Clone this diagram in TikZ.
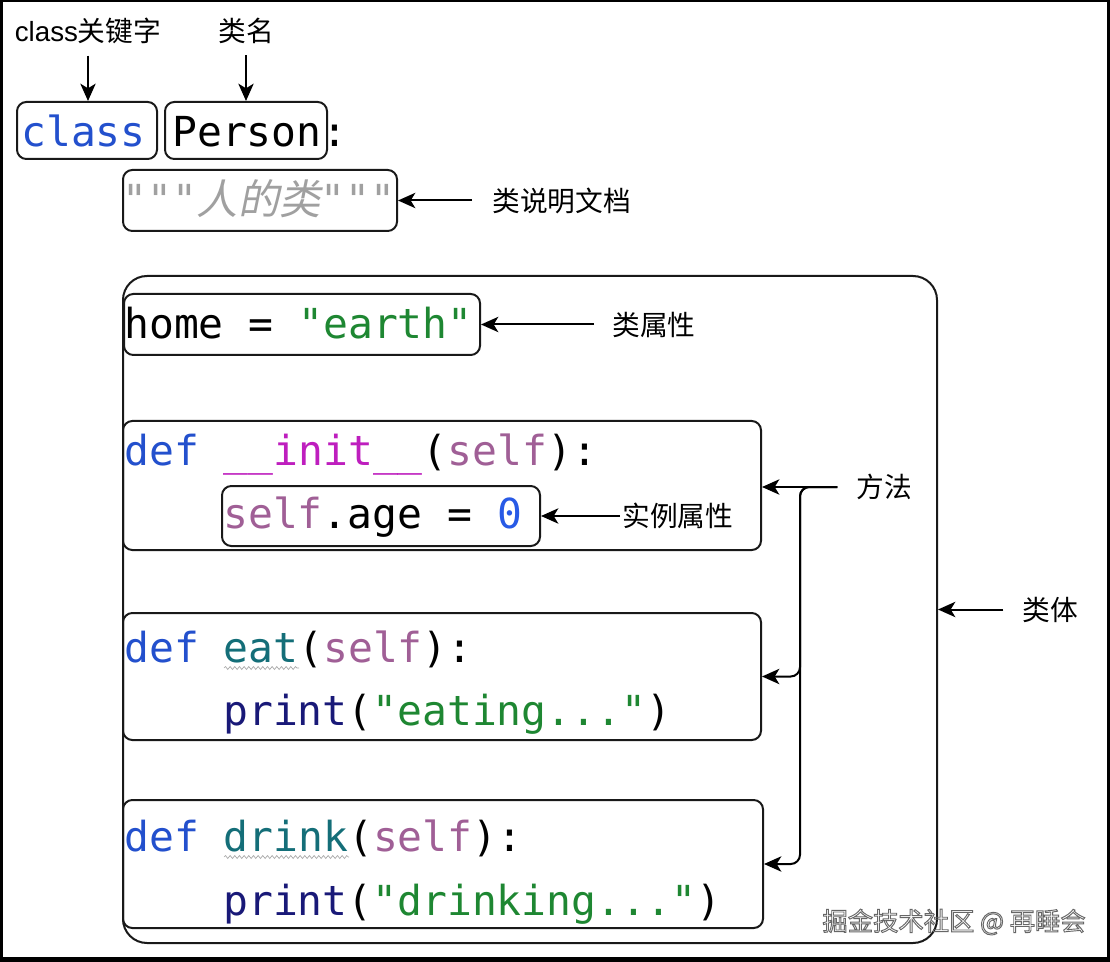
\documentclass[tikz,border=0pt]{standalone}
\usepackage{fontspec}
\setmainfont{Liberation Sans}
\setmonofont{DejaVu Sans Mono}
\newfontfamily\cjk{Noto Sans CJK SC}
\newfontfamily\cjkslant[FakeSlant=0.2]{Noto Sans CJK SC}
\usetikzlibrary{arrows.meta,fit,decorations.pathmorphing}
\definecolor{kwc}{RGB}{35,80,205}
\definecolor{strc}{RGB}{30,135,50}
\definecolor{magc}{RGB}{190,30,190}
\definecolor{selfc}{RGB}{160,95,150}
\definecolor{fnc}{RGB}{20,110,120}
\definecolor{prc}{RGB}{25,25,120}
\definecolor{numc}{RGB}{40,90,230}
\definecolor{docc}{RGB}{160,160,160}
\definecolor{boxc}{RGB}{25,25,25}
\tikzset{
  box/.style={draw=boxc, line width=1.5pt, rounded corners=7pt, inner sep=0pt},
  bigbox/.style={draw=boxc, line width=1.5pt, rounded corners=18pt, inner sep=0pt},
  code/.style={font=\ttfamily\fontsize{31}{31}\selectfont, inner sep=0pt, anchor=base west},
  lbl/.style={font=\cjk\fontsize{20.8}{20.8}\selectfont, inner sep=0pt},
  arr/.style={-{Stealth[length=13pt,width=11.5pt,inset=3.5pt]}, line width=1.5pt, draw=black},
  squig/.style={draw=gray!70, line width=0.5pt, decorate, decoration={snake, amplitude=1.1pt, segment length=3.5pt}}
}
\begin{document}
\begin{tikzpicture}[x=0.75pt,y=-0.75pt]
% frame
\fill[black] (0,0) rectangle (1110,962);
\fill[white] (3,2) rectangle (1107,957);

% boxes
\node[bigbox, fit={(123,276) (937,943)}] (body) {};
\node[box, fit={(17,102) (157,159)}] (kw) {};
\node[box, fit={(165,102) (327,159)}] (name) {};
\node[box, fit={(123,170) (397,231)}] (doc) {};
\node[box, fit={(124,294) (480,355)}] (home) {};
\node[box, fit={(123,421) (761,550)}] (init) {};
\node[box, fit={(222,486) (540,546)}] (age) {};
\node[box, fit={(123,613) (761,740)}] (eat) {};
\node[box, fit={(123,800) (763,928)}] (drink) {};

% code text
\node[code] (tkw) at (21,147) {\color{kwc}class};
\node[code] (tname) at (172,147) {Person};
\node[code] (tcolon) at (322,147) {:};
\node[code] (tdoc) at (122,215) {\color{docc}\itshape """{\cjkslant 人的类}"""};
\node[code] (thome) at (124,339) {home = {\color{strc}"earth"}};
\node[code] (tinit) at (124,465) {{\color{kwc}def} {\color{magc}\_\_init\_\_}({\color{selfc}self}):};
\node[code] (tage) at (223,528) {{\color{selfc}self}.age = {\color{numc}0}};
\node[code] (teat) at (124,662) {{\color{kwc}def} {\color{fnc}eat}({\color{selfc}self}):};
\node[code] (tpe) at (223,725) {{\color{prc}print}({\color{strc}"eating..."})};
\node[code] (tdrink) at (124,851) {{\color{kwc}def} {\color{fnc}drink}({\color{selfc}self}):};
\node[code] (tpd) at (223,915) {{\color{prc}print}({\color{strc}"drinking..."})};

% squiggly underlines
\draw[squig] (224,668) -- (299,668);
\draw[squig] (224,857) -- (349,857);

% labels
\node[lbl] (lkw) at (88,31) {{\rmfamily class}关键字};
\node[lbl] (lname) at (246,31) {类名};
\node[lbl, anchor=west] (ldoc) at (492,200.5) {类说明文档};
\node[lbl, anchor=west] (lhome) at (612,324.5) {类属性};
\node[lbl, anchor=west] (lage) at (622,516) {实例属性};
\node[lbl, anchor=west] (lmeth) at (856,487) {方法};
\node[lbl, anchor=west] (lbody) at (1022,609.5) {类体};
\coordinate (split) at (800,600);

% connectors
\draw[arr, shorten <=8.5pt] (lkw.south) -- (lkw.south |- kw.north);
\draw[arr, shorten <=8.5pt] (lname.south) -- (lname.south |- name.north);
\draw[arr, shorten <=15pt] (ldoc.west) -- (doc.east);
\draw[arr, shorten <=13.5pt] (lhome.west) -- (home.east);
\draw[arr, shorten <=1.5pt] (lage.west) -- (age.east);
\draw[arr, shorten <=14pt] (lmeth.west) -- (lmeth.west -| init.east);
\draw[arr, shorten <=14pt, rounded corners=7pt] (lmeth.west) -- (lmeth.west -| split) |- (eat.east);
\draw[arr, shorten <=14pt, rounded corners=7pt] (lmeth.west) -- (lmeth.west -| split) |- (drink.east);
\draw[arr, shorten <=14pt] (lbody.west) -- (body.east);

% watermark
\node[anchor=east, inner sep=0pt, text=gray!80!black, font=\cjk\fontsize{19}{19}\selectfont] (wm) at (1086,922) {\special{pdf:literal direct 1 Tr 0.7 w}掘金技术社区 @ 再睡会\special{pdf:literal direct 0 Tr}};
\end{tikzpicture}
\end{document}
